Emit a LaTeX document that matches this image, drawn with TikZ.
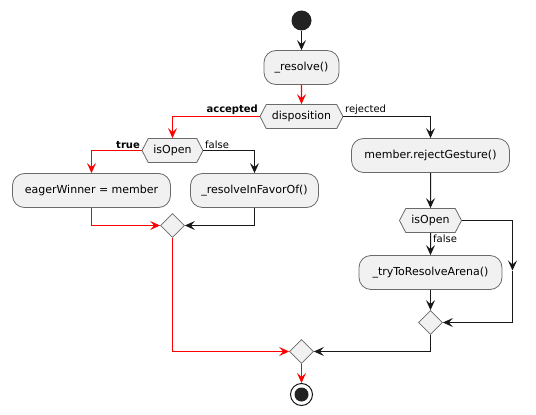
\documentclass[tikz,border=0pt]{standalone}
\usepackage{fontspec}
\setmainfont{DejaVu Sans}
\usetikzlibrary{shapes.geometric,shapes.symbols,arrows.meta}
\definecolor{boxfill}{HTML}{F1F1F1}
\definecolor{boxline}{HTML}{6A6A6A}
\definecolor{flowline}{HTML}{181818}
\definecolor{hotline}{RGB}{255,0,0}
\definecolor{dotfill}{HTML}{222222}
\tikzset{
  activity/.style={rectangle,rounded corners=12pt,draw=boxline,fill=boxfill,line width=0.8pt,
    minimum height=34pt,inner sep=2pt,font=\fontsize{11}{13}\selectfont},
  choice/.style={signal,signal to=west and east,signal pointer angle=125,draw=boxline,fill=boxfill,
    line width=0.8pt,minimum height=24pt,inner sep=2pt,font=\fontsize{11}{13}\selectfont},
  merge/.style={diamond,draw=boxline,fill=boxfill,line width=0.8pt,minimum size=24pt,inner sep=0pt},
  flow/.style={draw=flowline,line width=1pt,-{Stealth[length=10pt,width=9pt,inset=4pt]}},
  hot/.style={draw=hotline,line width=1.2pt,-{Stealth[length=10pt,width=9pt,inset=4pt]}},
  guard/.style={inner sep=1.5pt,font=\fontsize{10}{12}\selectfont},
  strong/.style={guard,font=\fontsize{10}{12}\selectfont\bfseries}
}
\begin{document}
\begin{tikzpicture}[x=1pt,y=-1pt]
\useasboundingbox (-0.5,-0.5) rectangle (535.5,414.5);
%Node Coordinates
\node at (301,20) [circle,fill=dotfill,minimum size=20pt,inner sep=0pt] (Start) {};
\node at (301,67) [activity,minimum width=75pt] (Resolve) {\_resolve()};
\node at (301,116) [choice,minimum width=83pt] (Disposition) {disposition};
\node at (172,150) [choice,minimum width=61pt] (OpenA) {isOpen};
\node at (91,190) [activity,minimum width=158pt] (Eager) {eagerWinner = member};
\node at (254,190) [activity,minimum width=128pt] (InFavor) {\_resolveInFavorOf()};
\node at (172,225) [merge] (MergeA) {};
\node at (430,155) [activity,minimum width=158pt] (Reject) {member.rejectGesture()};
\node at (430,220) [choice,minimum width=62pt] (OpenB) {isOpen};
\node at (430,272) [activity,minimum width=143pt] (TryArena) {\_tryToResolveArena()};
\node at (430,322) [merge] (MergeB) {};
\node at (301,351) [merge] (MergeC) {};
\node at (301,394) [circle,draw=flowline,line width=1pt,minimum size=22pt,inner sep=0pt] (Stop) {};
\node at (Stop.center) [circle,fill=dotfill,minimum size=14pt,inner sep=0pt] (StopDot) {};
\coordinate (SkipMid) at (512,270);

%Connections
\draw [flow] (Start) -- (Resolve);
\draw [hot] (Resolve) -- (Disposition);
\draw [hot] (Disposition.west) -| (OpenA.north);
\draw [flow] (Disposition.east) -| (Reject.north);
\draw [hot] (OpenA.west) -| (Eager.north);
\draw [flow] (OpenA.east) -| (InFavor.north);
\draw [hot] (Eager.south) |- (MergeA.west);
\draw [flow] (InFavor.south) |- (MergeA.east);
\draw [flow] (Reject) -- (OpenB);
\draw [flow] (OpenB) -- (TryArena);
\draw [flow] (TryArena) -- (MergeB);
\draw [flow] (OpenB.east) -| (SkipMid);
\draw [flow] (SkipMid) |- (MergeB.east);
\draw [hot] (MergeA.south) |- (MergeC.west);
\draw [flow] (MergeB.south) |- (MergeC.east);
\draw [hot] (MergeC) -- (Stop);

%Guard Labels
\node [strong,anchor=south east] at (Disposition.west) {accepted};
\node [guard,anchor=south west] at (Disposition.east) {rejected};
\node [strong,anchor=south east] at (OpenA.west) {true};
\node [guard,anchor=south west] at (OpenA.east) {false};
\node [guard,anchor=north west,xshift=1pt] at (OpenB.south) {false};
\end{tikzpicture}
\end{document}
